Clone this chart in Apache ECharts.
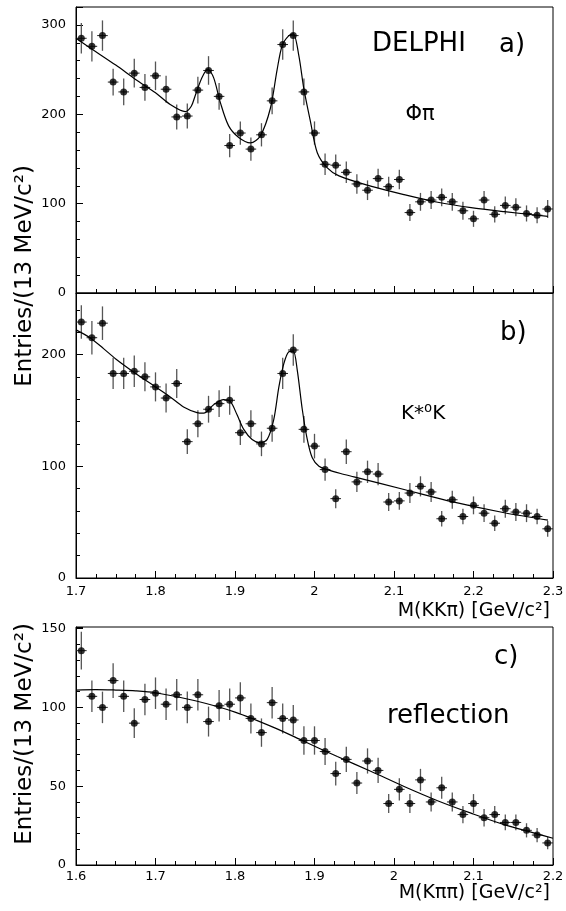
<!DOCTYPE html>
<html>
<head>
<meta charset="utf-8">
<title>DELPHI D and Ds mass spectra</title>
<script src="https://cdn.jsdelivr.net/npm/echarts@6/dist/echarts.min.js"></script>
<style>
  html, body { margin: 0; padding: 0; background: #fff; }
  #chart { width: 566px; height: 911px; }
</style>
</head>
<body>
<div id="chart"></div>
<script>
// Bin centres (13.3 MeV bins)
const massKKpi = [1.7067, 1.7200, 1.7333, 1.7467, 1.7600, 1.7733, 1.7867, 1.8000, 1.8133, 1.8267,
  1.8400, 1.8533, 1.8667, 1.8800, 1.8933, 1.9067, 1.9200, 1.9333, 1.9467, 1.9600,
  1.9733, 1.9867, 2.0000, 2.0133, 2.0267, 2.0400, 2.0533, 2.0667, 2.0800, 2.0933,
  2.1067, 2.1200, 2.1333, 2.1467, 2.1600, 2.1733, 2.1867, 2.2000, 2.2133, 2.2267,
  2.2400, 2.2533, 2.2667, 2.2800, 2.2933];
const massKpipi = [1.6067, 1.6200, 1.6333, 1.6467, 1.6600, 1.6733, 1.6867, 1.7000, 1.7133, 1.7267,
  1.7400, 1.7533, 1.7667, 1.7800, 1.7933, 1.8067, 1.8200, 1.8333, 1.8467, 1.8600,
  1.8733, 1.8867, 1.9000, 1.9133, 1.9267, 1.9400, 1.9533, 1.9667, 1.9800, 1.9933,
  2.0067, 2.0200, 2.0333, 2.0467, 2.0600, 2.0733, 2.0867, 2.1000, 2.1133, 2.1267,
  2.1400, 2.1533, 2.1667, 2.1800, 2.1933];
const binHalfWidth = 0.00667;

// a) phi pi
const phiPiCounts = [285, 276, 288, 236, 225, 246, 230, 243, 228, 197,
  198, 227, 249, 220, 165, 179, 161, 177, 215, 278,
  288, 225, 179, 144, 143, 135, 122, 115, 128, 119,
  127, 90, 102, 104, 107, 102, 92, 83, 104, 88,
  98, 96, 89, 87, 94];
const phiPiErrors = [17, 17, 17, 15, 15, 16, 15, 16, 15, 14,
  14, 15, 16, 15, 13, 13, 13, 13, 15, 17,
  17, 15, 13, 12, 12, 12, 11, 11, 11, 11,
  11, 9.5, 10, 10, 10, 10, 10, 9, 10, 9,
  10, 10, 9, 9, 10];
const phiPiFit = [[1.700, 285], [1.725, 270], [1.750, 255], [1.775, 239], [1.800, 224],
  [1.8185, 211], [1.8375, 203], [1.845, 209], [1.850, 221], [1.8585, 241],
  [1.8656, 250.5], [1.8731, 241], [1.8816, 213], [1.892, 187], [1.9047, 174],
  [1.9194, 168], [1.932, 176], [1.9446, 207], [1.953, 250], [1.9594, 277],
  [1.9677, 288], [1.9733, 290], [1.9804, 265], [1.9867, 228], [1.9951, 191],
  [2.0035, 157], [2.0161, 140], [2.0308, 131], [2.0707, 119.5], [2.1127, 110],
  [2.155, 101.5], [2.197, 95.5], [2.2388, 91], [2.2936, 85.7]];

// b) K*0 K
const kstarKCounts = [229, 215, 228, 183, 183, 185, 180, 171, 161, 174,
  122, 138, 151, 156, 159, 130, 138, 120, 134, 183,
  204, 133, 118, 97, 71, 113, 86, 95, 93, 68,
  69, 76, 82, 77, 53, 70, 55, 65, 58, 49,
  62, 59, 58, 55, 44];
const kstarKErrors = [15, 15, 15, 14, 14, 14, 13, 13, 13, 13,
  11, 12, 12, 12, 13, 11, 12, 11, 12, 14,
  14, 12, 11, 10, 8.5, 11, 9, 10, 10, 8,
  8, 9, 9, 9, 7, 8, 7, 8, 8, 7,
  8, 8, 8, 7, 7];
const kstarKFit = [[1.700, 222], [1.7185, 214.6], [1.735, 205], [1.750, 196], [1.775, 183],
  [1.800, 171], [1.8185, 162], [1.8353, 153], [1.8522, 148], [1.8606, 147.5],
  [1.8731, 155], [1.8857, 159.6], [1.8941, 158], [1.9026, 146], [1.911, 133],
  [1.9215, 124], [1.932, 121], [1.9405, 124], [1.9488, 142], [1.9552, 171],
  [1.9615, 192], [1.9677, 202.5], [1.9733, 203], [1.9783, 186], [1.9846, 151],
  [1.9909, 124], [1.9972, 107.5], [2.0056, 100], [2.0161, 97], [2.0329, 93.5],
  [2.0497, 90.5], [2.1127, 79.2], [2.1756, 67.9], [2.2388, 58.4], [2.2936, 51.8]];

// c) reflection
const reflCounts = [136, 107, 100, 117, 107, 90, 105, 109, 102, 108,
  100, 108, 91, 101, 102, 106, 93, 84, 103, 93,
  92, 79, 79, 72, 58, 67, 52, 66, 60, 39,
  48, 39, 54, 40, 49, 40, 32, 39, 30, 32,
  27, 27, 22, 19, 14];
const reflErrors = [12, 10, 10, 11, 10, 9.5, 10, 10, 10, 10,
  10, 10, 9.5, 10, 10, 10, 9.5, 9, 10, 9.5,
  9.5, 9, 9, 8.5, 7.5, 8, 7, 8, 8, 6,
  7, 6, 7, 6, 7, 6, 5.5, 6, 5.5, 5.5,
  5, 5, 4.5, 4.5, 4];
const reflFit = [[1.600, 111], [1.625, 111.3], [1.650, 111], [1.675, 110.5], [1.700, 109.3],
  [1.750, 104.2], [1.800, 97], [1.850, 87], [1.8867, 78.5], [1.9287, 68.8],
  [1.9707, 59.5], [2.0127, 49.8], [2.0548, 40.8], [2.0968, 32.9], [2.1388, 25.6],
  [2.200, 17]];

const yTicksA = [0, 100, 200, 300];
const yTicksB = [0, 100, 200];
const yTicksC = [0, 50, 100, 150];

const FONT = '"DejaVu Sans", "Liberation Sans", sans-serif';

function zip3(xs, ys, es) {
  return xs.map((x, i) => [x, ys[i], es[i]]);
}

function errorBars(params, api) {
  const x = api.value(0), y = api.value(1), e = api.value(2);
  const c = api.coord([x, y]);
  const top = api.coord([x, y + e]);
  const bot = api.coord([x, y - e]);
  const l = api.coord([x - binHalfWidth, y]);
  const r = api.coord([x + binHalfWidth, y]);
  return {
    type: 'group',
    children: [
      { type: 'line', shape: { x1: c[0], y1: top[1], x2: c[0], y2: bot[1] },
        style: { stroke: '#555', lineWidth: 1.3 } },
      { type: 'line', shape: { x1: l[0], y1: c[1], x2: r[0], y2: c[1] },
        style: { stroke: '#222', lineWidth: 1 } }
    ]
  };
}

function xAxisDef(gridIndex, min, max, showLabels, margin) {
  return {
    type: 'value', gridIndex, min, max, interval: 0.1,
    axisLine: { show: true, onZero: false, lineStyle: { color: '#000', width: 1 } },
    axisTick: { show: true, inside: true, length: 7, lineStyle: { color: '#000' } },
    minorTick: { show: true, splitNumber: 4, length: 4, lineStyle: { color: '#000' } },
    splitLine: { show: false },
    axisLabel: { show: showLabels, color: '#000', fontFamily: FONT, fontSize: 13, margin,
      formatter: v => String(Math.round(v * 10) / 10) }
  };
}

function yAxisDef(gridIndex, max, interval, minorSplit, ticks) {
  return {
    type: 'value', gridIndex, min: 0, max, interval,
    axisLine: { show: true, onZero: false, lineStyle: { color: '#000', width: 1 } },
    axisTick: { show: true, inside: true, length: 7, lineStyle: { color: '#000' } },
    minorTick: { show: true, splitNumber: minorSplit, length: 4, lineStyle: { color: '#000' } },
    splitLine: { show: false },
    axisLabel: { color: '#000', fontFamily: FONT, fontSize: 13, margin: 10,
      showMaxLabel: true,
      formatter: v => (ticks.indexOf(Math.round(v)) >= 0 && Math.abs(v - Math.round(v)) < 1e-6) ? String(Math.round(v)) : '' }
  };
}

function panelSeries(idx, xs, ys, es, fit) {
  return [
    { type: 'custom', xAxisIndex: idx, yAxisIndex: idx, renderItem: errorBars,
      data: zip3(xs, ys, es), encode: { x: 0, y: 1 }, z: 2, silent: true },
    { type: 'line', xAxisIndex: idx, yAxisIndex: idx, data: fit, showSymbol: false,
      smooth: 0.3,
      lineStyle: { color: '#000', width: 1.2 }, z: 3, silent: true },
    { type: 'scatter', xAxisIndex: idx, yAxisIndex: idx, data: xs.map((x, i) => [x, ys[i]]),
      symbol: 'circle', symbolSize: 7, itemStyle: { color: '#000' }, z: 4, silent: true }
  ];
}

const gridCommon = { show: true, borderColor: '#000', borderWidth: 1, backgroundColor: 'transparent',
  containLabel: false, outerBoundsMode: 'none' };

const option = {
  animation: false,
  backgroundColor: '#fff',
  grid: [
    Object.assign({ left: 76, top: 7, width: 477, height: 286 }, gridCommon),
    Object.assign({ left: 76, top: 293, width: 477, height: 285 }, gridCommon),
    Object.assign({ left: 76, top: 627, width: 477, height: 238 }, gridCommon)
  ],
  xAxis: [
    xAxisDef(0, 1.7, 2.3, false, 7),
    xAxisDef(1, 1.7, 2.3, true, 7),
    xAxisDef(2, 1.6, 2.2, true, 5)
  ],
  yAxis: [
    yAxisDef(0, 320, 100, 5, yTicksA),
    yAxisDef(1, 255, 100, 5, yTicksB),
    yAxisDef(2, 151, 50, 5, yTicksC)
  ],
  series: [].concat(
    panelSeries(0, massKKpi, phiPiCounts, phiPiErrors, phiPiFit),
    panelSeries(1, massKKpi, kstarKCounts, kstarKErrors, kstarKFit),
    panelSeries(2, massKpipi, reflCounts, reflErrors, reflFit)
  ),
  graphic: [
    { type: 'text', x: 372, y: 44, style: { text: 'DELPHI', font: '26px ' + FONT, fill: '#000', align: 'left', verticalAlign: 'middle' } },
    { type: 'text', x: 499, y: 45, style: { text: 'a)', font: '26px ' + FONT, fill: '#000', align: 'left', verticalAlign: 'middle' } },
    { type: 'text', x: 420, y: 115, style: { text: 'Φπ', font: '21px ' + FONT, fill: '#000', align: 'center', verticalAlign: 'middle' } },
    { type: 'text', x: 500, y: 333, style: { text: 'b)', font: '26px ' + FONT, fill: '#000', align: 'left', verticalAlign: 'middle' } },
    { type: 'text', x: 401, y: 414, style: { text: 'K*⁰K', font: '20px ' + FONT, fill: '#000', align: 'left', verticalAlign: 'middle' } },
    { type: 'text', x: 494, y: 657, style: { text: 'c)', font: '26px ' + FONT, fill: '#000', align: 'left', verticalAlign: 'middle' } },
    { type: 'text', x: 387, y: 716, style: { text: 'reflection', font: '26px ' + FONT, fill: '#000', align: 'left', verticalAlign: 'middle' } },
    { type: 'text', x: 550, y: 611, style: { text: 'M(KKπ) [GeV/c²]', font: '19px ' + FONT, fill: '#000', align: 'right', verticalAlign: 'middle' } },
    { type: 'text', x: 550, y: 893, style: { text: 'M(Kππ) [GeV/c²]', font: '19px ' + FONT, fill: '#000', align: 'right', verticalAlign: 'middle' } },
    { type: 'text', x: 25, y: 276, rotation: Math.PI / 2, style: { text: 'Entries/(13 MeV/c²)', font: '23px ' + FONT, fill: '#000', align: 'center', verticalAlign: 'middle' } },
    { type: 'text', x: 25, y: 734, rotation: Math.PI / 2, style: { text: 'Entries/(13 MeV/c²)', font: '23px ' + FONT, fill: '#000', align: 'center', verticalAlign: 'middle' } }
  ]
};

const chart = echarts.init(document.getElementById('chart'), null, { renderer: 'canvas' });
chart.setOption(option);
</script>
</body>
</html>
